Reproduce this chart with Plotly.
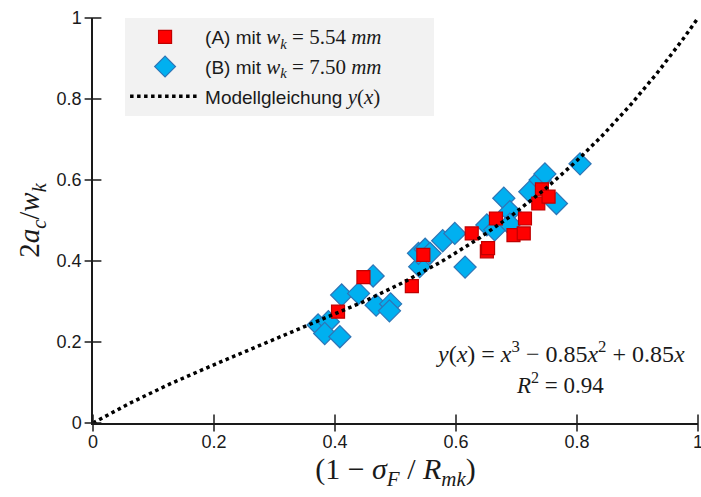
import numpy as np
import plotly.graph_objects as go

# Series (A): w_k = 5.54 mm
a_x = [0.405, 0.447, 0.527, 0.546, 0.626, 0.651, 0.653, 0.666, 0.695, 0.712,
       0.714, 0.736, 0.742, 0.753]
a_y = [0.275, 0.360, 0.338, 0.415, 0.468, 0.424, 0.432, 0.505, 0.464, 0.468,
       0.505, 0.542, 0.577, 0.559]

# Series (B): w_k = 7.50 mm
b_x = [0.372, 0.389, 0.383, 0.408, 0.411, 0.439, 0.463, 0.468, 0.492, 0.490,
       0.540, 0.538, 0.549, 0.557, 0.578, 0.598, 0.615, 0.651, 0.664, 0.679,
       0.689, 0.689, 0.722, 0.739, 0.747, 0.766, 0.805]
b_y = [0.242, 0.250, 0.221, 0.213, 0.316, 0.320, 0.363, 0.291, 0.294, 0.277,
       0.386, 0.419, 0.429, 0.419, 0.450, 0.468, 0.385, 0.489, 0.477, 0.555,
       0.522, 0.491, 0.571, 0.600, 0.615, 0.542, 0.640]

# Model equation y(x) = x^3 - 0.85 x^2 + 0.85 x
coef_a, coef_b = 0.85, 0.85
r_squared = 0.94
model_x = np.linspace(0, 1, 201)
model_y = model_x**3 - coef_a * model_x**2 + coef_b * model_x

major_step = 0.2
minor_step = 0.02

W, H = 701, 497
M_L, M_R, M_T, M_B = 93, 3, 18, 74
PLOT_W, PLOT_H = W - M_L - M_R, H - M_T - M_B

SANS = "Liberation Sans, Arial, sans-serif"
SERIF = "Liberation Serif, DejaVu Serif, serif"
INK = "#1a1a1a"
NB = "&nbsp;"


def math(s, size=21):
    return f"<span style='font-family:{SERIF};font-size:{size}px'>{s}</span>"


fig = go.Figure()

fig.add_trace(go.Scatter(
    x=b_x, y=b_y, mode="markers",
    name="(B) mit " + math("<i>w</i><sub><i>k</i></sub> = 7.50 <i>mm</i>"),
    marker=dict(symbol="diamond", size=17, color="#00b0f0",
                line=dict(color="#2e75b6", width=1.2)),
    legendrank=2, legendgroup="b",
))
fig.add_trace(go.Scatter(
    x=a_x, y=a_y, mode="markers",
    name="(A) mit " + math("<i>w</i><sub><i>k</i></sub> = 5.54 <i>mm</i>") + NB * 9,
    marker=dict(symbol="square", size=13, color="#ff0000",
                line=dict(color="#c00000", width=1.2)),
    legendrank=1, legendgroup="a",
))
fig.add_trace(go.Scatter(
    x=model_x, y=model_y, mode="lines",
    name="Modellgleichung " + math("<i>y</i>(<i>x</i>)"),
    line=dict(color="black", width=3.5, dash="dot"),
    legendrank=3, legendgroup="m",
))

# Tick marks along both axes: major ticks cross the axis line,
# minor ticks sit just outside it
tick_pos = np.round(np.arange(0, 1 + 1e-9, minor_step), 4)
is_major = np.abs(tick_pos / major_step - np.round(tick_pos / major_step)) < 1e-6
major_pos = tick_pos[is_major]
minor_pos = tick_pos[~is_major]
minor_len = 6
dx_out = (minor_len / 2) / PLOT_W
dy_out = (minor_len / 2) / PLOT_H

tick_style = dict(mode="markers", showlegend=False, hoverinfo="skip",
                  cliponaxis=False)
fig.add_trace(go.Scatter(
    x=major_pos, y=np.zeros_like(major_pos), **tick_style,
    marker=dict(symbol="line-ns-open", size=12, color=INK,
                line=dict(color=INK, width=1.5))))
fig.add_trace(go.Scatter(
    x=np.zeros_like(major_pos), y=major_pos, **tick_style,
    marker=dict(symbol="line-ew-open", size=12, color=INK,
                line=dict(color=INK, width=1.5))))
fig.add_trace(go.Scatter(
    x=minor_pos, y=np.full_like(minor_pos, -dy_out), **tick_style,
    marker=dict(symbol="line-ns-open", size=minor_len, color=INK,
                line=dict(color=INK, width=1.2))))
fig.add_trace(go.Scatter(
    x=np.full_like(minor_pos, -dx_out), y=minor_pos, **tick_style,
    marker=dict(symbol="line-ew-open", size=minor_len, color=INK,
                line=dict(color=INK, width=1.2))))

axis_common = dict(
    range=[0, 1], tickmode="linear", tick0=0, dtick=major_step,
    showgrid=False, zeroline=False, showline=True, automargin=False,
    linecolor=INK, linewidth=1.5,
    ticks="outside", ticklen=6, tickwidth=1.5, tickcolor="rgba(0,0,0,0)",
    tickfont=dict(family=SANS, size=18, color=INK),
    ticklabeloverflow="allow",
)

fig.update_layout(
    template="none",
    width=W, height=H,
    margin=dict(l=M_L, r=M_R, t=M_T, b=M_B),
    plot_bgcolor="white", paper_bgcolor="white",
    xaxis=dict(**axis_common, ticklabelstandoff=-4,
               title=dict(text="(1 − <i>σ</i><sub><i>F</i></sub> / <i>R</i><sub><i>mk</i></sub>)",
                          font=dict(family=SERIF, size=30, color=INK), standoff=6)),
    yaxis=dict(**axis_common,
               title=dict(text="2<i>a</i><sub><i>c</i></sub>/<i>w</i><sub><i>k</i></sub>",
                          font=dict(family=SERIF, size=29, color=INK), standoff=8)),
    legend=dict(
        x=0.053, y=1.0, xanchor="left", yanchor="top",
        bgcolor="#f2f2f2", borderwidth=0,
        font=dict(family=SANS, size=19, color=INK),
        itemwidth=70, tracegroupgap=2,
    ),
    showlegend=True,
)

fig.add_annotation(
    x=0.772, y=0.175, xref="x", yref="y", showarrow=False,
    text="<i>y</i>(<i>x</i>) = <i>x</i><sup>3</sup> − 0.85<i>x</i><sup>2</sup> + 0.85<i>x</i>",
    font=dict(family=SERIF, size=24, color=INK),
)
fig.add_annotation(
    x=0.772, y=0.098, xref="x", yref="y", showarrow=False,
    text=f"<i>R</i><sup>2</sup> = {r_squared}",
    font=dict(family=SERIF, size=23, color=INK),
)

fig.write_html("out.html")
